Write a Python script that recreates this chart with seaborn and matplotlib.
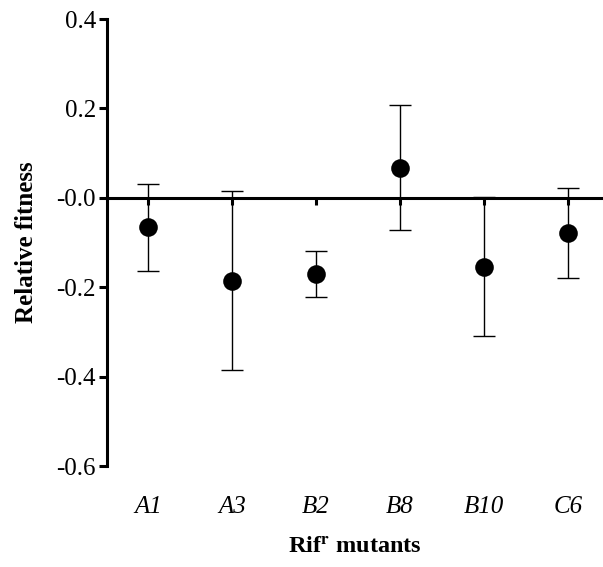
import numpy as np
import pandas as pd
import matplotlib
matplotlib.use("Agg")
import matplotlib.pyplot as plt
import seaborn as sns

# Relative fitness of Rif^r mutants (mean with lower / upper error limits)
mutants = ["A1", "A3", "B2", "B8", "B10", "C6"]
fitness = [-0.066, -0.186, -0.170, 0.066, -0.154, -0.079]
upper = [0.031, 0.015, -0.119, 0.208, 0.002, 0.022]
lower = [-0.163, -0.385, -0.221, -0.073, -0.309, -0.179]

y_ticks = [-0.6, -0.4, -0.2, 0.0, 0.2, 0.4]
y_ticklabels = ["-0.6", "-0.4", "-0.2", "-0.0", "0.2", "0.4"]

sns.set_theme(style="white")
plt.rcParams["font.family"] = ["Liberation Serif", "DejaVu Serif"]
plt.rcParams["mathtext.fontset"] = "stix"
plt.rcParams["text.color"] = "black"
plt.rcParams["axes.labelcolor"] = "black"

df = pd.DataFrame({"Mutant": mutants, "Fitness": fitness,
                   "Upper": upper, "Lower": lower})
df["pos"] = np.arange(len(df))

fig = plt.figure(figsize=(6.03, 5.67), dpi=100)
ax = fig.add_axes([0.1774, 0.178, 0.8226, 0.7884])

# x axis line sits at zero (set before tick labels: it resets the ticks)
for s in ["top", "right"]:
    ax.spines[s].set_visible(False)
ax.spines["bottom"].set_position(("data", 0))
ax.spines["left"].set_linewidth(2.2)
ax.spines["bottom"].set_linewidth(2.2)
ax.spines["left"].set_color("black")
ax.spines["bottom"].set_color("black")

# error bars
ax.errorbar(df["pos"], df["Fitness"],
            yerr=[df["Fitness"] - df["Lower"], df["Upper"] - df["Fitness"]],
            fmt="none", ecolor="black", elinewidth=1.0, capsize=8, capthick=1.0,
            zorder=2)
sns.scatterplot(data=df, x="pos", y="Fitness", ax=ax, color="black", s=180,
                edgecolor="black", linewidth=0, zorder=3, legend=False)

ax.set_ylim(-0.6, 0.4)
ax.set_xlim(-0.488, 5.417)
ax.set_yticks(y_ticks)
ax.set_yticklabels(y_ticklabels, fontsize=18)
ax.set_xticks(df["pos"])
ax.set_xticklabels(mutants, fontsize=18, style="italic")

ax.tick_params(axis="y", direction="out", length=6, width=2.2, left=True, pad=2,
               colors="black")
ax.tick_params(axis="x", direction="out", length=5, width=2.2, bottom=True,
               pad=210, colors="black")

ax.set_xlabel(r"Rif$^{\mathbf{r}}$ mutants", fontsize=17.5, fontweight="bold",
              labelpad=14, color="black")
ax.set_ylabel("Relative fitness", fontsize=18, fontweight="bold", labelpad=13,
              color="black")
ax.grid(False)

fig.savefig("out.png", dpi=100)
